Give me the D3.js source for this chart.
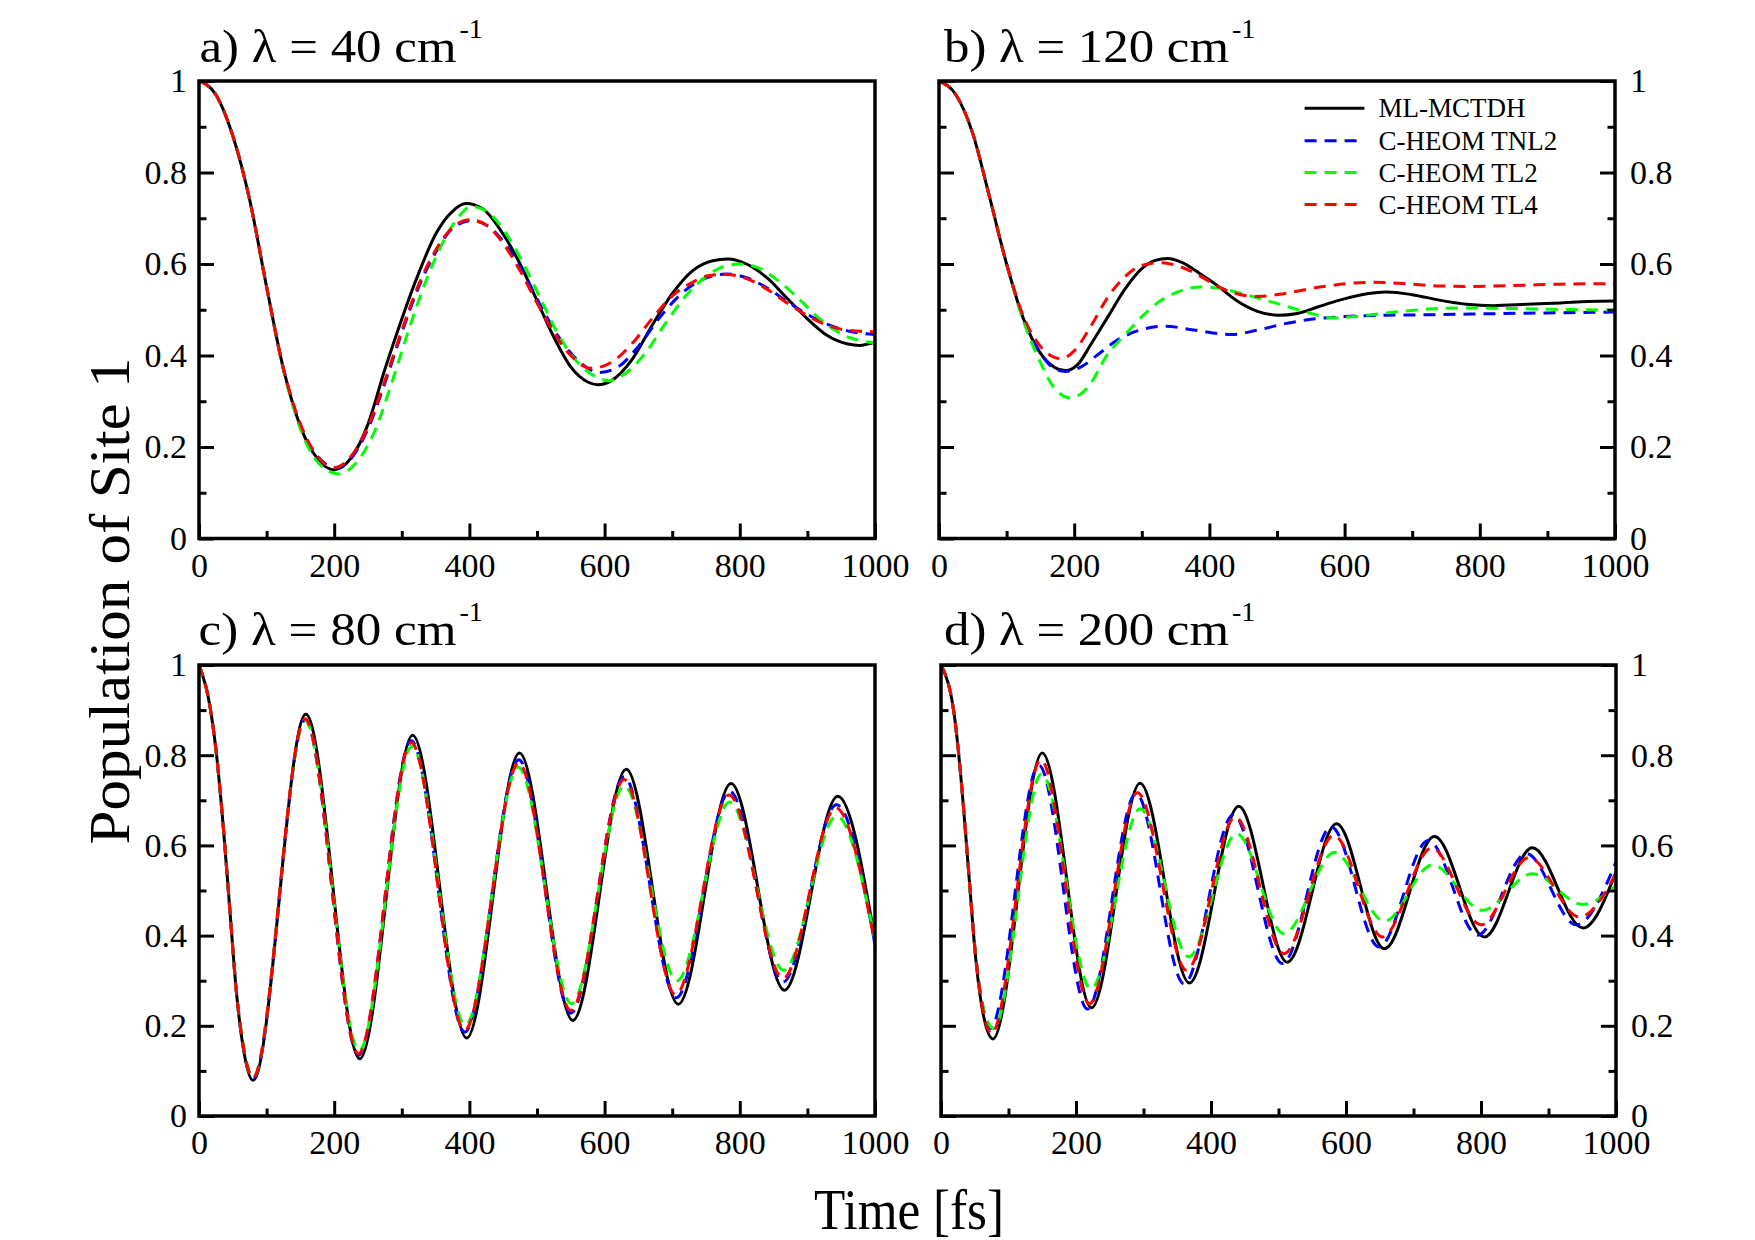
<!DOCTYPE html>
<html><head><meta charset="utf-8">
<script src="https://cdn.jsdelivr.net/npm/d3@7"></script>
<style>
html,body{margin:0;padding:0;background:#fff;}
text{font-family:"Liberation Serif","Times New Roman",serif;fill:#000;}
</style></head><body>
<svg id="chart" width="1755" height="1240" xmlns="http://www.w3.org/2000/svg"></svg>
<script>
// ---------- ticks / labels ----------
const timeTicks=[0,200,400,600,800,1000];
const timeTickLabels=["0","200","400","600","800","1000"];
const timeMinor=[100,300,500,700,900];
const popTicks=[0,0.2,0.4,0.6,0.8,1];
const popTickLabels=["0","0.2","0.4","0.6","0.8","1"];
const popMinor=[0.1,0.3,0.5,0.7,0.9];
const seriesNames=["ML-MCTDH","C-HEOM TNL2","C-HEOM TL2","C-HEOM TL4"];
const seriesColors=["#000000","#0000ff","#00ff00","#ff0000"];
const panelTitles=["a) λ = 40 cm","b) λ = 120 cm","c) λ = 80 cm","d) λ = 200 cm"];
const titleSup="-1";
const xLabel="Time [fs]";
const yLabel="Population of Site 1";

// ---------- panel a (λ = 40) ----------
const a_ML=[[0,1],[25,0.97],[50,0.88],[75,0.74],[100,0.55],[125,0.37],[150,0.245],[175,0.175],[200,0.15],[225,0.176],[250,0.25],[275,0.37],[300,0.48],[325,0.58],[350,0.665],[375,0.715],[395,0.732],[420,0.72],[450,0.665],[475,0.6],[500,0.52],[525,0.44],[550,0.375],[575,0.342],[590,0.336],[610,0.345],[640,0.39],[670,0.465],[700,0.535],[730,0.585],[760,0.607],[782,0.611],[810,0.6],[840,0.57],[870,0.525],[900,0.48],[930,0.443],[960,0.425],[977,0.422],[1000,0.429]];
const a_TNL2=[[0,1],[25,0.97],[50,0.88],[75,0.74],[100,0.55],[125,0.37],[150,0.248],[175,0.18],[203,0.155],[225,0.175],[250,0.24],[275,0.34],[300,0.45],[325,0.55],[350,0.625],[375,0.678],[403,0.695],[430,0.68],[455,0.64],[480,0.58],[505,0.51],[530,0.445],[560,0.39],[593,0.363],[620,0.375],[650,0.42],[680,0.48],[710,0.53],[740,0.563],[780,0.578],[810,0.57],[840,0.548],[870,0.518],[900,0.49],[930,0.468],[965,0.452],[1000,0.446]];
const a_TL2=[[0,1],[25,0.97],[50,0.88],[75,0.74],[100,0.55],[125,0.368],[150,0.24],[175,0.168],[207,0.141],[235,0.17],[260,0.235],[285,0.34],[310,0.455],[335,0.56],[360,0.645],[385,0.705],[403,0.726],[430,0.71],[455,0.665],[480,0.6],[505,0.525],[530,0.45],[560,0.385],[585,0.355],[606,0.345],[630,0.36],[660,0.405],[690,0.47],[720,0.53],[750,0.572],[775,0.594],[800,0.6],[830,0.59],[860,0.56],[890,0.52],[920,0.478],[950,0.447],[980,0.432],[1000,0.428]];
const a_TL4=[[0,1],[25,0.97],[50,0.88],[75,0.74],[100,0.55],[125,0.37],[150,0.25],[175,0.18],[200,0.155],[225,0.18],[250,0.245],[275,0.345],[300,0.455],[325,0.555],[350,0.63],[375,0.68],[400,0.697],[425,0.685],[450,0.645],[475,0.585],[500,0.515],[525,0.45],[550,0.4],[580,0.372],[610,0.385],[640,0.425],[670,0.48],[700,0.53],[730,0.56],[755,0.575],[780,0.577],[810,0.568],[840,0.545],[870,0.515],[900,0.487],[930,0.466],[960,0.455],[1000,0.452]];

// ---------- panel b (λ = 120) ----------
const b_ML=[[0,1],[25,0.97],[50,0.885],[75,0.745],[100,0.6],[125,0.48],[150,0.405],[170,0.375],[187,0.367],[205,0.38],[225,0.425],[250,0.485],[275,0.545],[300,0.59],[320,0.608],[338,0.612],[360,0.603],[385,0.58],[410,0.555],[440,0.52],[470,0.497],[502,0.488],[530,0.492],[560,0.506],[590,0.52],[625,0.533],[662,0.539],[700,0.533],[740,0.521],[780,0.512],[820,0.509],[870,0.512],[920,0.515],[960,0.518],[1000,0.519]];
const b_TNL2=[[0,1],[25,0.97],[50,0.885],[75,0.745],[100,0.6],[125,0.48],[150,0.405],[170,0.372],[187,0.365],[210,0.375],[235,0.402],[260,0.43],[290,0.452],[334,0.464],[380,0.455],[433,0.446],[470,0.455],[510,0.469],[550,0.479],[600,0.485],[660,0.488],[720,0.489],[800,0.491],[900,0.493],[1000,0.495]];
const b_TL2=[[0,1],[25,0.97],[50,0.885],[75,0.745],[100,0.6],[125,0.475],[150,0.385],[170,0.33],[195,0.307],[220,0.33],[250,0.404],[275,0.445],[300,0.485],[328,0.52],[355,0.54],[387,0.55],[415,0.547],[446,0.536],[480,0.522],[511,0.509],[545,0.494],[584,0.482],[620,0.486],[675,0.495],[730,0.502],[774,0.504],[840,0.503],[905,0.501],[1000,0.499]];
const b_TL4=[[0,1],[25,0.97],[50,0.885],[75,0.745],[100,0.6],[125,0.485],[150,0.42],[165,0.4],[180,0.393],[200,0.41],[225,0.465],[250,0.528],[275,0.572],[300,0.597],[328,0.603],[355,0.595],[380,0.579],[410,0.553],[440,0.535],[472,0.529],[510,0.535],[545,0.545],[580,0.553],[610,0.558],[643,0.56],[690,0.557],[740,0.552],[790,0.551],[850,0.553],[920,0.556],[1000,0.557]];

// ---------- panel c (λ = 80) ----------
const c_ML=[[0,1],[16,0.91],[26,0.8],[36,0.64],[46,0.45],[55,0.28],[65,0.155],[80,0.079],[158,0.891],[238,0.127],[316,0.844],[396,0.173],[474,0.805],[553,0.212],[632,0.769],[709,0.248],[787,0.737],[866,0.279],[945,0.709],[1000,0.39]];
const c_TNL2=[[0,1],[16,0.91],[26,0.8],[36,0.64],[46,0.45],[55,0.28],[65,0.158],[80,0.083],[157,0.878],[236,0.135],[314,0.832],[393,0.186],[473,0.79],[550,0.228],[629,0.752],[706,0.262],[785,0.72],[864,0.297],[943,0.69],[1000,0.38]];
const c_TL2=[[0,1],[16,0.91],[26,0.8],[36,0.64],[46,0.45],[55,0.28],[65,0.16],[80,0.085],[157,0.877],[237,0.145],[315,0.82],[394,0.201],[472,0.774],[551,0.249],[629,0.732],[707,0.3],[785,0.696],[865,0.323],[943,0.665],[1000,0.39]];
const c_TL4=[[0,1],[16,0.91],[26,0.8],[36,0.64],[46,0.45],[55,0.28],[65,0.16],[80,0.085],[157,0.881],[236,0.138],[314,0.828],[393,0.19],[473,0.783],[550,0.234],[629,0.746],[705,0.269],[784,0.712],[864,0.305],[942,0.683],[1000,0.38]];

// ---------- panel d (λ = 200) ----------
const d_ML=[[0,1],[21,0.874],[31,0.726],[41,0.541],[51,0.356],[61,0.238],[77,0.171],[150,0.805],[223,0.24],[295,0.738],[368,0.295],[441,0.687],[513,0.341],[586,0.648],[657,0.371],[731,0.62],[805,0.397],[876,0.595],[951,0.417],[1000,0.541]];
const d_TNL2=[[0,1],[21,0.874],[31,0.726],[41,0.541],[51,0.36],[61,0.25],[73,0.194],[145,0.778],[217,0.237],[289,0.715],[360,0.293],[433,0.668],[506,0.338],[578,0.641],[649,0.375],[722,0.611],[795,0.401],[867,0.582],[941,0.424],[1000,0.563]];
const d_TL2=[[0,1],[21,0.874],[31,0.726],[41,0.541],[51,0.36],[61,0.25],[78,0.194],[149,0.759],[222,0.282],[295,0.681],[367,0.353],[438,0.626],[508,0.404],[583,0.584],[657,0.432],[728,0.557],[802,0.456],[876,0.537],[951,0.469],[1000,0.511]];
const d_TL4=[[0,1],[21,0.874],[31,0.726],[41,0.541],[51,0.36],[61,0.245],[75,0.183],[148,0.79],[220,0.249],[291,0.717],[364,0.323],[436,0.663],[508,0.36],[582,0.622],[654,0.397],[727,0.594],[800,0.424],[871,0.573],[946,0.441],[1000,0.537]];

const panelSeries=[[a_ML,a_TNL2,a_TL2,a_TL4],[b_ML,b_TNL2,b_TL2,b_TL4],[c_ML,c_TNL2,c_TL2,c_TL4],[d_ML,d_TNL2,d_TL2,d_TL4]];

// ---------- layout ----------
const layout=[
 {x0:199,x1:875,y0:81,y1:538.5,right:false,tx:199.5,ty:62,tlen:257},
 {x0:939,x1:1615,y0:81,y1:538.5,right:true,tx:944,ty:62,tlen:285},
 {x0:199,x1:875,y0:665,y1:1116,right:false,tx:198.5,ty:645,tlen:258},
 {x0:941,x1:1616,y0:665,y1:1116,right:true,tx:944,ty:645,tlen:285}
];
const FONT='"Liberation Serif","Times New Roman",serif';
const svg=d3.select("#chart");
const defs=svg.append("defs");

function styleAxis(g,fs){
  g.attr("font-family",FONT).attr("font-size",fs);
  g.select(".domain").remove();
  g.selectAll(".tick line").attr("stroke","#000").attr("stroke-width",3);
  g.selectAll(".tick text").attr("fill","#000");
}

layout.forEach((L,i)=>{
  const x=d3.scaleLinear().domain([0,1000]).range([L.x0,L.x1]);
  const y=d3.scaleLinear().domain([0,1]).range([L.y1,L.y0]);
  const cid="clip"+i;
  defs.append("clipPath").attr("id",cid).append("rect")
    .attr("x",L.x0).attr("y",L.y0).attr("width",L.x1-L.x0).attr("height",L.y1-L.y0);
  const g=svg.append("g");
  const line=d3.line().x(d=>x(d[0])).y(d=>y(d[1])).curve(d3.curveMonotoneX);
  panelSeries[i].forEach((s,k)=>{
    g.append("path").attr("d",line(s)).attr("fill","none")
     .attr("stroke",seriesColors[k]).attr("stroke-width",3)
     .attr("stroke-dasharray",k===0?null:"12,8")
     .attr("clip-path",`url(#${cid})`);
  });
  // bottom axis
  const bMin=svg.append("g").attr("transform",`translate(0,${L.y1})`)
    .call(d3.axisBottom(x).tickValues(timeMinor).tickSize(-7.5).tickFormat(""));
  styleAxis(bMin,34);
  const bMaj=svg.append("g").attr("transform",`translate(0,${L.y1})`)
    .call(d3.axisBottom(x).tickValues(timeTicks).tickSize(-15).tickPadding(14).tickFormat((d,j)=>timeTickLabels[j]));
  styleAxis(bMaj,34);
  // left axis
  const lMin=svg.append("g").attr("transform",`translate(${L.x0},0)`)
    .call(d3.axisLeft(y).tickValues(popMinor).tickSize(-7.5).tickFormat(""));
  styleAxis(lMin,34);
  const lMaj=svg.append("g").attr("transform",`translate(${L.x0},0)`)
    .call(d3.axisLeft(y).tickValues(popTicks).tickSize(-15).tickPadding(12)
      .tickFormat((d,j)=>L.right?"":popTickLabels[j]));
  styleAxis(lMaj,34);
  if(L.right){
    const rMin=svg.append("g").attr("transform",`translate(${L.x1},0)`)
      .call(d3.axisRight(y).tickValues(popMinor).tickSize(-7.5).tickFormat(""));
    styleAxis(rMin,34);
    const rMaj=svg.append("g").attr("transform",`translate(${L.x1},0)`)
      .call(d3.axisRight(y).tickValues(popTicks).tickSize(-15).tickPadding(15).tickFormat((d,j)=>popTickLabels[j]));
    styleAxis(rMaj,34);
  }
  // frame
  svg.append("rect").attr("x",L.x0).attr("y",L.y0).attr("width",L.x1-L.x0).attr("height",L.y1-L.y0)
    .attr("fill","none").attr("stroke","#000").attr("stroke-width",3.5);
  // title
  svg.append("text").attr("x",L.tx).attr("y",L.ty).attr("font-size",46)
    .attr("textLength",L.tlen).attr("lengthAdjust","spacingAndGlyphs").text(panelTitles[i]);
  svg.append("text").attr("x",L.tx+L.tlen+3).attr("y",L.ty-24).attr("font-size",28).text(titleSup);
});

// legend (panel b)
const legRows=[108.3,140.7,172.6,204.5];
seriesNames.forEach((n,k)=>{
  svg.append("line").attr("x1",1304.6).attr("x2",1364.4).attr("y1",legRows[k]).attr("y2",legRows[k])
    .attr("stroke",seriesColors[k]).attr("stroke-width",3).attr("stroke-dasharray",k===0?null:"12,8");
  svg.append("text").attr("x",1378.6).attr("y",legRows[k]+9).attr("font-size",27).text(n);
});

// axis titles
svg.append("text").attr("x",909).attr("y",1229).attr("text-anchor","middle").attr("font-size",56)
  .attr("textLength",190).attr("lengthAdjust","spacingAndGlyphs").text(xLabel);
svg.append("text").attr("transform","translate(129,601) rotate(-90)").attr("text-anchor","middle").attr("font-size",58)
  .attr("textLength",487).attr("lengthAdjust","spacingAndGlyphs").text(yLabel);
</script>
</body></html>
